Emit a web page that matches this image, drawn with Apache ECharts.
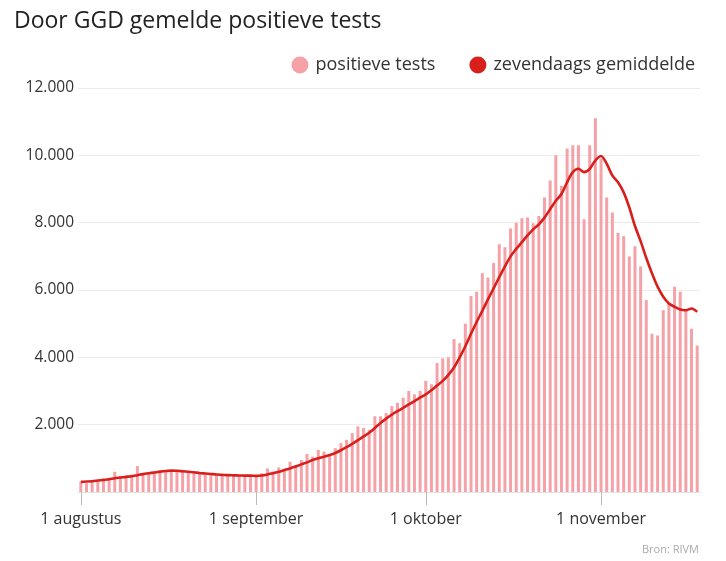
<!DOCTYPE html>
<html>
<head>
<meta charset="utf-8">
<script src="https://cdn.jsdelivr.net/npm/echarts@6/dist/echarts.min.js"></script>
<style>
html,body{margin:0;padding:0;background:#fff;}
#chart{width:726px;height:561px;}
</style>
</head>
<body>
<div id="chart"></div>
<script>
// Categories: days from 1 August to 18 November
const monthNames = ['januari','februari','maart','april','mei','juni','juli','augustus','september','oktober','november','december'];
const categories = [];
(function(){
  const d = new Date(2020, 7, 1);
  for (let i = 0; i < 110; i++) {
    categories.push(d.getDate() + ' ' + monthNames[d.getMonth()]);
    d.setDate(d.getDate() + 1);
  }
})();
const tickLabels = ['1 augustus', '1 september', '1 oktober', '1 november'];

// Daily positive tests
const positieveTests = [
  // August
  310, 260, 300, 340, 380, 420, 600, 470, 480, 520, 770, 560, 580, 620, 600, 620,
  650, 620, 600, 570, 560, 540, 520, 500, 490, 500, 480, 490, 470, 480, 470,
  // September
  480, 560, 700, 610, 730, 640, 900, 800, 950, 1130, 1050, 1250, 1200, 1100, 1300,
  1450, 1550, 1750, 1950, 1900, 1850, 2250, 2250, 2350, 2550, 2650, 2800, 3000, 2900, 3000,
  // October
  3300, 3200, 3830, 3970, 4000, 4540, 4420, 5000, 5820, 5950, 6500, 6370, 6800, 7360, 7270,
  7830, 8000, 8130, 8150, 7980, 8200, 8750, 9250, 10000, 9100, 10200, 10300, 10300, 8100, 10300, 11100,
  // November
  9900, 8750, 8300, 7700, 7600, 7000, 7300, 6700, 5700, 4700, 4650, 5400, 5600, 6100, 5950, 5400, 4850, 4350
];

// Seven-day average
const zevendaagsGemiddelde = [
  // August
  300, 310, 320, 340, 360, 380, 410, 430, 450, 470, 500, 530, 555, 580, 605, 625,
  635, 630, 615, 600, 585, 565, 550, 535, 520, 510, 500, 495, 490, 485, 485,
  // September
  480, 490, 520, 560, 600, 650, 700, 760, 820, 880, 950, 1000, 1050, 1100, 1160,
  1240, 1330, 1430, 1540, 1650, 1760, 1900, 2050, 2180, 2300, 2400, 2500, 2600, 2700, 2800,
  // October
  2900, 3020, 3160, 3300, 3480, 3700, 4000, 4330, 4700, 5050, 5380, 5720, 6050, 6380, 6700,
  7000, 7220, 7420, 7620, 7800, 7950, 8150, 8400, 8650, 8850, 9200, 9500, 9600, 9500, 9600, 9850,
  // November
  9980, 9750, 9400, 9200, 8900, 8450, 7900, 7450, 6950, 6500, 6100, 5800, 5600, 5500, 5420, 5400, 5450, 5350
];

const yTicks = [0, 2000, 4000, 6000, 8000, 10000, 12000];

const tickIdx = tickLabels.map(t => categories.indexOf(t));
const fontFam = '"Open Sans", Lato, sans-serif';

const chart = echarts.init(document.getElementById('chart'), null, {renderer: 'canvas'});
chart.setOption({
  backgroundColor: '#ffffff',
  animation: false,
  title: {
    text: 'Door GGD gemelde positieve tests',
    left: 9, top: 5,
    textStyle: {fontFamily: fontFam, fontSize: 23, fontWeight: 'normal', color: '#222'}
  },
  legend: {
    right: 26, top: 51,
    itemWidth: 17, itemHeight: 17, itemGap: 34,
    textStyle: {fontFamily: fontFam, fontSize: 18, color: '#333', padding: [0, 0, 0, 2]},
    data: [
      {name: 'positieve tests', icon: 'circle', itemStyle: {color: '#f4a2a8'}},
      {name: 'zevendaags gemiddelde', icon: 'circle', itemStyle: {color: '#d81f1b'}}
    ]
  },
  graphic: [{
    type: 'text', right: 27, top: 544,
    style: {text: 'Bron: RIVM', fontFamily: fontFam, fontSize: 11, fill: '#aaa'}
  }],
  grid: {left: 78, right: 26, top: 88, bottom: 69, containLabel: false},
  xAxis: {
    type: 'category',
    data: categories,
    boundaryGap: true,
    axisLine: {show: true, lineStyle: {color: '#e2e2e2'}},
    axisTick: {
      show: true, alignWithLabel: true, length: 13,
      interval: (i) => tickIdx.includes(i),
      lineStyle: {color: '#bbb'}
    },
    axisLabel: {
      interval: (i) => tickIdx.includes(i),
      fontFamily: fontFam, fontSize: 16, color: '#333', margin: 19,
      formatter: (v) => v
    }
  },
  yAxis: {
    type: 'value',
    min: 0, max: 12000, interval: 2000,
    axisLine: {show: false},
    axisTick: {show: false},
    splitLine: {lineStyle: {color: '#ececec'}},
    axisLabel: {
      fontFamily: fontFam, fontSize: 15.5, color: '#333', margin: 4,
      formatter: (v) => v === 0 ? '' : (v / 1000).toFixed(0) + '.000'
    }
  },
  series: [
    {
      name: 'positieve tests',
      type: 'bar',
      data: positieveTests,
      barWidth: 3,
      itemStyle: {color: '#f4a2a8'},
      z: 2
    },
    {
      name: 'zevendaags gemiddelde',
      type: 'line',
      data: zevendaagsGemiddelde,
      smooth: 0.3,
      symbol: 'none',
      lineStyle: {color: '#d81f1b', width: 2.6},
      itemStyle: {color: '#d81f1b'},
      z: 3
    }
  ]
});
</script>
</body>
</html>
